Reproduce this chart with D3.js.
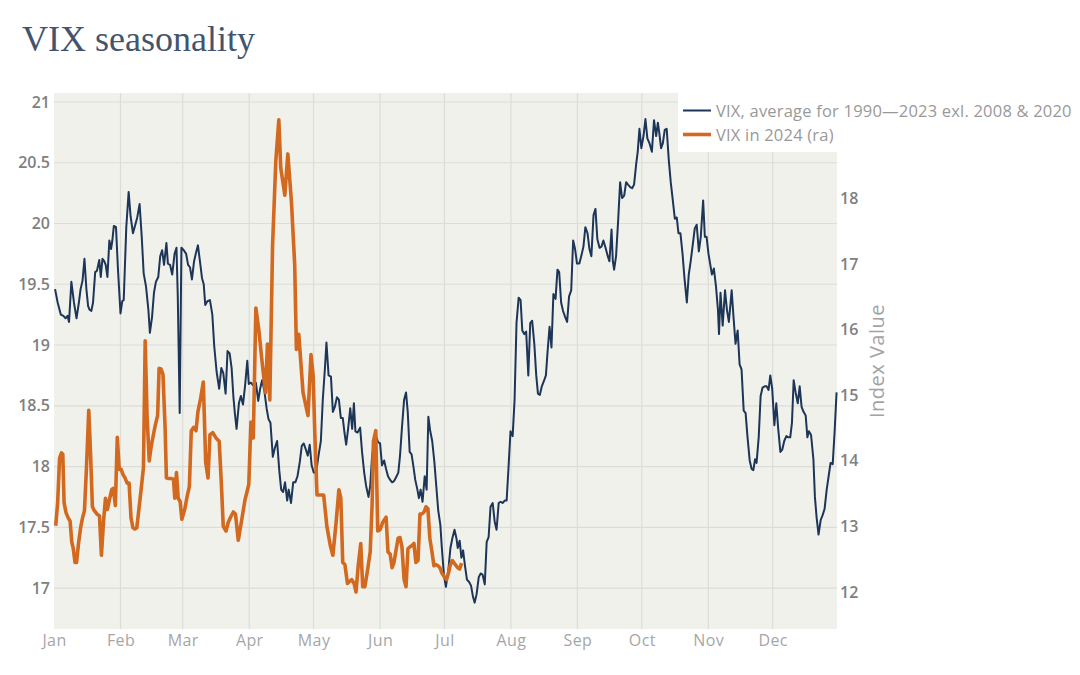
<!DOCTYPE html>
<html>
<head>
<meta charset="utf-8">
<script src="https://cdn.jsdelivr.net/npm/d3@7"></script>
<style>
  html, body { margin: 0; padding: 0; background: #ffffff; }
  svg { display: block; }
</style>
</head>
<body>
<svg id="chart" width="1080" height="675"></svg>
<script>
// ---- Data (day-of-year offsets from Jan 1) ----
const avgDays = [0.5,1.7,3.2,4.4,5.4,6.3,7.0,8.1,9.3,10.5,11.6,12.4,13.3,14.2,15.1,15.9,16.6,17.4,18.2,19.2,20.0,21.1,21.8,22.6,23.4,24.1,24.9,25.8,26.6,27.2,27.9,28.9,29.8,31.0,31.8,32.5,33.7,34.8,35.7,36.8,37.9,38.8,39.9,40.9,41.8,42.9,44.0,44.7,45.7,46.6,47.5,48.6,49.5,50.4,51.3,52.4,53.1,54.1,55.1,56.2,57.1,57.7,58.6,59.4,60.5,61.6,62.5,63.4,64.3,65.3,66.2,67.1,68.1,69.0,69.8,70.5,71.5,72.7,73.8,74.7,75.8,77.0,78.0,78.9,80.0,80.9,81.9,82.8,83.6,84.3,85.1,86.2,87.1,88.1,89.1,90.1,90.8,91.8,92.7,94.1,95.2,96.1,97.0,98.0,99.1,100.0,100.9,102.0,102.9,104.0,105.0,105.9,106.8,107.7,108.7,109.4,110.5,111.5,112.5,113.5,114.6,115.5,116.4,117.4,118.3,119.2,120.1,121.1,122.2,123.3,124.4,125.3,126.3,127.0,128.0,129.1,130.0,130.9,131.9,132.8,133.7,134.6,135.4,136.2,137.1,138.1,139.0,139.8,140.5,141.5,142.7,143.6,144.6,145.5,146.6,147.4,148.3,149.2,150.1,151.1,152.0,152.9,153.9,154.8,155.7,156.7,157.6,158.5,159.4,160.5,161.3,162.2,163.2,164.1,164.9,165.8,166.7,167.7,168.4,169.4,170.1,170.9,171.8,172.8,173.7,174.5,175.4,176.3,177.3,178.2,179.1,180.1,180.8,181.8,182.7,183.9,184.8,185.7,186.7,187.6,188.2,189.1,189.9,190.7,191.6,192.5,193.5,194.4,195.3,196.1,197.0,198.0,198.9,199.8,200.8,201.7,202.6,203.5,204.5,205.4,206.3,207.3,208.2,209.1,210.1,211.0,211.9,212.8,213.8,214.7,215.6,216.6,217.5,218.3,219.2,220.1,221.1,222.0,222.9,223.9,224.8,225.6,226.5,227.4,228.3,229.3,230.1,231.0,231.9,232.8,233.8,234.7,235.5,236.4,237.3,238.3,239.2,240.1,241.1,242.0,242.9,243.8,244.9,245.9,246.8,247.7,248.7,249.6,250.5,251.5,252.4,253.3,254.3,255.2,256.1,257.1,258.0,258.9,259.9,260.5,261.1,262.0,263.0,263.9,264.8,265.8,266.7,267.6,268.6,269.5,270.4,271.4,272.1,272.9,273.8,274.8,275.7,276.6,277.6,278.7,279.7,280.7,281.5,282.2,283.0,283.8,284.7,285.6,286.6,287.5,288.4,289.4,290.3,291.1,292.0,293.0,293.9,295.0,295.9,296.8,297.8,298.7,299.6,300.6,301.5,302.6,303.4,304.2,305.1,306.7,307.6,308.6,309.5,310.0,310.7,311.7,312.8,313.7,314.6,315.9,316.8,317.7,318.7,319.6,320.5,321.5,322.4,323.3,324.3,325.2,326.0,326.8,327.5,328.5,329.4,330.3,331.3,332.2,333.1,333.9,334.8,335.8,336.7,337.6,338.6,339.5,340.4,341.4,342.3,343.2,344.0,344.8,345.7,346.7,347.6,348.5,349.4,350.4,351.2,351.9,352.9,354.0,354.7,355.5,356.4,357.4,358.3,359.2,360.2,361.1,362.0,363.0,363.9,364.8];
const avgValues = [19.46,19.35,19.25,19.24,19.22,19.24,19.19,19.52,19.35,19.22,19.35,19.46,19.53,19.71,19.46,19.32,19.29,19.28,19.35,19.60,19.61,19.70,19.56,19.71,19.69,19.66,19.56,19.86,19.79,19.86,19.98,19.97,19.63,19.26,19.36,19.37,19.97,20.26,20.06,19.92,19.99,20.05,20.16,19.89,19.59,19.48,19.29,19.10,19.23,19.43,19.52,19.56,19.73,19.78,19.66,19.84,19.67,19.66,19.58,19.75,19.80,19.40,18.44,19.80,19.78,19.75,19.66,19.64,19.54,19.69,19.76,19.82,19.68,19.55,19.50,19.33,19.36,19.37,19.25,18.99,18.78,18.64,18.81,18.77,18.60,18.95,18.93,18.81,18.58,18.44,18.31,18.52,18.58,18.51,18.67,18.87,18.68,18.69,18.67,18.69,18.54,18.64,18.71,18.63,18.48,18.39,18.36,18.08,18.15,18.21,17.97,17.81,17.79,17.87,17.72,17.81,17.70,17.87,17.87,17.92,18.04,18.17,18.19,18.14,18.09,18.18,18.01,17.95,17.95,18.09,18.21,18.55,18.81,19.02,18.75,18.74,18.45,18.49,18.57,18.55,18.40,18.40,18.28,18.18,18.31,18.48,18.31,18.52,18.29,18.28,18.32,18.12,17.95,17.84,17.75,17.84,18.09,18.21,18.25,18.20,18.19,18.01,18.05,17.98,17.92,17.89,17.87,17.88,17.91,17.95,18.09,18.32,18.55,18.61,18.45,18.12,18.10,17.98,17.89,17.81,17.74,17.81,17.71,17.92,17.81,18.41,18.29,18.21,18.04,17.84,17.64,17.52,17.33,17.10,17.01,17.16,17.33,17.41,17.48,17.41,17.33,17.39,17.25,17.31,17.18,17.07,17.05,17.02,16.93,16.88,16.95,17.09,17.12,17.11,17.03,17.38,17.42,17.67,17.70,17.55,17.48,17.70,17.71,17.70,17.72,17.72,18.00,18.29,18.25,18.55,19.18,19.39,19.37,19.12,19.09,19.11,18.75,19.18,19.20,19.01,18.75,18.60,18.59,18.66,18.70,18.75,18.95,19.15,18.98,19.42,19.38,19.62,19.60,19.35,19.28,19.23,19.19,19.40,19.45,19.86,19.79,19.67,19.67,19.74,19.81,19.97,19.92,19.79,19.73,20.07,20.12,19.87,19.80,19.81,19.86,19.80,19.74,19.69,19.95,19.69,19.62,19.73,20.03,20.34,20.21,20.23,20.34,20.32,20.30,20.29,20.32,20.49,20.59,20.78,20.62,20.72,20.86,20.70,20.66,20.59,20.85,20.72,20.83,20.74,20.62,20.66,20.77,20.78,20.52,20.34,20.20,20.04,20.05,19.92,19.92,19.75,19.55,19.35,19.58,19.69,19.83,19.96,19.99,19.77,19.89,20.19,19.89,19.89,19.75,19.58,19.63,19.48,19.29,19.09,19.43,19.16,19.45,19.29,19.19,19.45,19.22,19.01,19.12,18.84,18.80,18.46,18.44,18.24,18.05,17.98,17.97,18.06,18.03,18.24,18.58,18.65,18.66,18.66,18.63,18.75,18.64,18.34,18.52,18.31,18.12,18.14,18.21,18.25,18.24,18.24,18.36,18.71,18.61,18.52,18.66,18.49,18.45,18.42,18.24,18.29,18.26,18.06,17.75,17.58,17.44,17.56,17.60,17.65,17.81,17.92,18.03,18.02,18.29,18.61];

const vixDays = [0.8,1.7,2.6,3.5,4.1,4.7,5.6,6.6,7.5,8.3,9.0,9.8,10.5,11.5,12.4,13.3,14.2,15.1,16.2,17.0,17.9,18.8,20.0,21.2,22.1,23.1,24.0,24.9,25.8,26.9,27.6,28.6,29.5,30.4,31.3,32.2,33.1,34.1,35.0,35.9,36.8,37.7,38.6,39.5,40.6,41.7,42.5,43.4,44.4,45.4,46.3,47.2,48.3,49.0,49.9,50.8,51.8,52.4,53.3,54.5,55.7,56.3,57.1,57.9,58.8,59.6,61.0,61.9,63.1,64.0,65.1,66.2,67.1,68.4,69.6,70.7,71.8,72.7,74.0,75.5,77.0,78.0,78.9,80.2,81.2,82.3,83.6,84.6,85.9,87.4,89.0,90.8,91.8,92.9,94.1,95.5,97.0,98.6,99.5,100.6,101.9,103.4,104.8,105.7,107.6,109.0,110.7,112.2,113.0,114.1,116.1,118.4,119.8,120.8,121.6,122.6,124.1,125.7,127.2,128.8,130.0,131.5,132.8,133.7,134.6,135.6,136.8,137.7,138.8,139.9,140.8,141.8,143.0,143.9,144.9,146.1,147.4,148.3,148.9,150.0,150.9,152.0,153.2,154.8,155.7,156.7,157.6,158.5,159.4,160.4,161.3,162.2,163.2,164.1,165.0,166.0,166.9,167.8,168.7,169.7,170.6,171.5,172.5,173.4,174.3,175.2,176.2,177.1,178.0,179.0,179.9,180.8,181.8,183.0,183.9,184.8,185.7,187.0,188.2,189.1,190.0];
const vixValues = [13.01,13.36,14.04,14.12,14.10,13.36,13.21,13.13,13.08,12.76,12.66,12.45,12.45,12.76,12.98,13.13,13.24,13.87,14.77,14.14,13.30,13.24,13.19,13.16,12.56,13.08,13.43,13.26,13.40,13.56,13.58,13.32,14.36,13.87,13.87,13.79,13.74,13.66,13.66,13.13,12.98,12.96,12.98,13.24,13.56,13.90,15.83,14.67,14.00,14.24,14.39,14.54,14.69,15.41,15.40,15.32,14.50,13.74,13.73,13.73,13.72,13.43,13.82,13.43,13.38,13.11,13.27,13.43,13.61,14.46,14.51,14.46,14.75,14.96,15.20,13.98,13.74,14.40,14.43,14.35,14.30,13.66,13.00,12.93,13.06,13.14,13.22,13.19,12.79,13.08,13.40,13.64,14.59,14.35,16.33,15.99,15.51,15.04,15.78,14.93,17.30,18.57,19.20,18.47,18.05,18.68,17.94,16.99,15.70,15.93,15.04,14.69,15.62,15.30,14.40,13.48,13.48,13.48,13.00,12.71,12.56,13.06,13.56,13.43,12.45,12.42,12.13,12.16,12.19,12.13,12.00,12.40,12.74,12.08,12.08,12.32,12.61,13.35,14.30,14.46,12.93,12.95,13.06,13.14,12.61,12.58,12.37,12.45,12.63,12.82,12.83,12.69,12.19,12.08,12.66,12.69,12.71,12.74,12.45,12.48,13.19,13.19,13.22,13.30,13.27,12.82,12.61,12.40,12.42,12.40,12.37,12.29,12.24,12.19,12.29,12.42,12.48,12.42,12.37,12.35,12.44];

const monthLabels = ["Jan","Feb","Mar","Apr","May","Jun","Jul","Aug","Sep","Oct","Nov","Dec"];
const leftTicks = [17, 17.5, 18, 18.5, 19, 19.5, 20, 20.5, 21];
const rightTicks = [12, 13, 14, 15, 16, 17, 18];
const seriesNames = ["VIX, average for 1990\u20142023 exl. 2008 & 2020", "VIX in 2024 (ra)"];
const titleText = "VIX seasonality";
const rightAxisTitle = "Index Value";

// ---- Layout ----
const W = 1080, H = 675;
const plot = { left: 54, right: 837, top: 93, bottom: 629 };
const DAY = 86400000;
const t0 = Date.UTC(2024, 0, 1);
const toDate = d => new Date(t0 + d * DAY);

const svg = d3.select("#chart");

const x = d3.scaleUtc()
  .domain([toDate(0), toDate(365)])
  .range([plot.left, plot.right]);
const yL = d3.scaleLinear().domain([16.663, 21.074]).range([plot.bottom, plot.top]);
const yR = d3.scaleLinear().domain([11.436, 19.609]).range([plot.bottom, plot.top]);

// Title
svg.append("text")
  .attr("x", 22).attr("y", 50.5)
  .attr("font-family", "'Liberation Serif', 'DejaVu Serif', serif")
  .attr("font-size", 36)
  .attr("fill", "#44546c")
  .text(titleText);

// Plot background
svg.append("rect")
  .attr("x", plot.left).attr("y", plot.top)
  .attr("width", plot.right - plot.left).attr("height", plot.bottom - plot.top)
  .attr("fill", "#f1f1ec");

// Gridlines
const monthStarts = d3.utcMonth.range(toDate(0), toDate(366));
const grid = svg.append("g").attr("stroke", "#dcdcd8").attr("stroke-width", 1.2);
grid.selectAll("line.v").data(monthStarts.slice(1)).join("line")
  .attr("class", "v")
  .attr("x1", d => x(d)).attr("x2", d => x(d))
  .attr("y1", plot.top).attr("y2", plot.bottom);
grid.selectAll("line.h").data(leftTicks).join("line")
  .attr("class", "h")
  .attr("x1", plot.left).attr("x2", plot.right)
  .attr("y1", d => yL(d)).attr("y2", d => yL(d));

// Axes (D3 axes, domain/ticks hidden, labels styled)
const tickFont = "'Open Sans', 'Noto Sans', sans-serif";
const xAxis = d3.axisBottom(x)
  .tickValues(monthStarts.slice(0, 12))
  .tickFormat((d, i) => monthLabels[i])
  .tickSize(0).tickPadding(0);
const gx = svg.append("g").attr("transform", `translate(0,${plot.bottom})`).call(xAxis);
gx.select(".domain").remove();
gx.selectAll("text")
  .attr("y", 17).attr("dy", 0)
  .attr("font-family", tickFont).attr("font-size", 16).attr("letter-spacing", 0.4)
  .attr("fill", "#a6a6a6");

const leftAxis = d3.axisLeft(yL).tickValues(leftTicks).tickFormat(d3.format("~g")).tickSize(0).tickPadding(4);
const gl = svg.append("g").attr("transform", `translate(${plot.left},0)`).call(leftAxis);
gl.select(".domain").remove();
gl.selectAll("text")
  .attr("font-family", tickFont).attr("font-size", 16).attr("font-weight", 600)
  .attr("fill", "#808080");

const rightAxis = d3.axisRight(yR).tickValues(rightTicks).tickFormat(d3.format("d")).tickSize(0).tickPadding(3);
const gr = svg.append("g").attr("transform", `translate(${plot.right},0)`).call(rightAxis);
gr.select(".domain").remove();
gr.selectAll("text")
  .attr("font-family", tickFont).attr("font-size", 16).attr("font-weight", 600)
  .attr("fill", "#808080");

// Right axis title
svg.append("text")
  .attr("transform", `translate(884, ${(plot.top + plot.bottom) / 2}) rotate(-90)`)
  .attr("text-anchor", "middle")
  .attr("font-family", tickFont).attr("font-size", 20).attr("letter-spacing", 0.5)
  .attr("fill", "#a3a3a3")
  .text(rightAxisTitle);

// Lines
const avgData = avgDays.map((d, i) => ({ date: toDate(d), v: avgValues[i] }));
const vixData = vixDays.map((d, i) => ({ date: toDate(d), v: vixValues[i] }));

const lineL = d3.line().x(d => x(d.date)).y(d => yL(d.v));
const lineR = d3.line().x(d => x(d.date)).y(d => yR(d.v));

svg.append("path").datum(avgData)
  .attr("d", lineL)
  .attr("fill", "none").attr("stroke", "#1d3557").attr("stroke-width", 2)
  .attr("stroke-linejoin", "round");

svg.append("path").datum(vixData)
  .attr("d", lineR)
  .attr("fill", "none").attr("stroke", "#d2691f").attr("stroke-width", 3.6)
  .attr("stroke-linejoin", "round");

// Legend
const lg = svg.append("g");
lg.append("rect")
  .attr("x", 678).attr("y", 93).attr("width", W - 678).attr("height", 59)
  .attr("fill", "#ffffff");
const legendItems = [
  { name: seriesNames[0], color: "#1d3557", width: 2, y: 110.5 },
  { name: seriesNames[1], color: "#d2691f", width: 3.6, y: 134.5 }
];
legendItems.forEach(it => {
  lg.append("line")
    .attr("x1", 683).attr("x2", 711).attr("y1", it.y).attr("y2", it.y)
    .attr("stroke", it.color).attr("stroke-width", it.width);
  lg.append("text")
    .attr("x", 716).attr("y", it.y + 6)
    .attr("font-family", tickFont).attr("font-size", 16.5).attr("letter-spacing", 0.2)
    .attr("fill", "#999999")
    .text(it.name);
});
</script>
</body>
</html>
